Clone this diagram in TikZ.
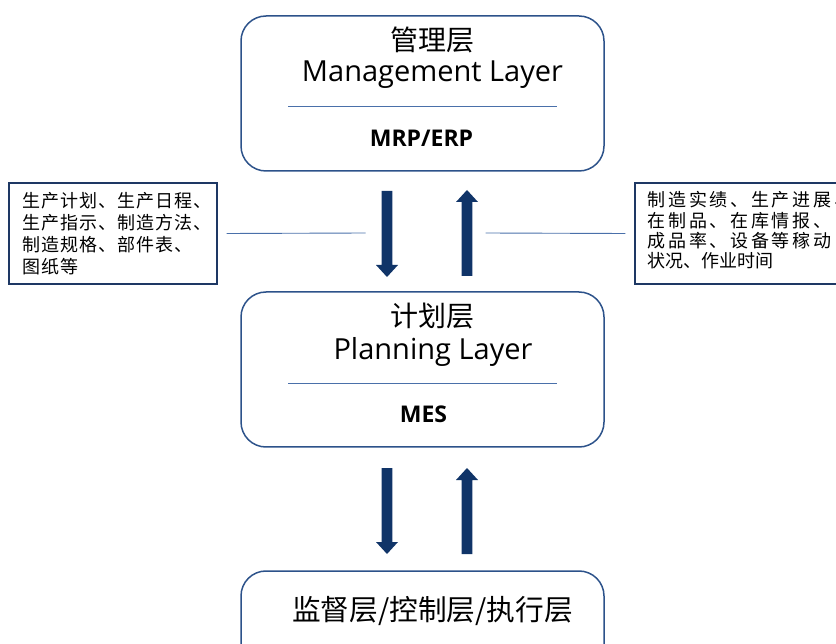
\documentclass[tikz,border=0pt]{standalone}
\usepackage{fontspec}
\setmainfont{Open Sans}
\newfontfamily\cjk{Noto Sans CJK SC}
\newfontfamily\cjkwide[LetterSpace=6]{Noto Sans CJK SC}
\newfontfamily\cjkwider[LetterSpace=15]{Noto Sans CJK SC}
\newfontfamily\cjknarrow[LetterSpace=0]{Noto Sans CJK SC}
\definecolor{navy}{RGB}{16,52,104}
\definecolor{frame}{RGB}{44,82,138}
\definecolor{boxline}{RGB}{30,56,100}
\definecolor{rule}{RGB}{74,112,170}
\tikzset{
  layerbox/.style={draw=frame, line width=1.5pt, rounded corners=25pt,
    minimum width=363pt, minimum height=155pt, inner sep=0pt},
  notebox/.style={draw=boxline, line width=1.4pt,
    minimum width=208pt, minimum height=101pt, inner sep=0pt},
  seprule/.style={draw=rule, line width=0.9pt},
  cntitle/.style={inner sep=0pt, font=\cjk\fontsize{28pt}{30pt}\selectfont},
  entitle/.style={inner sep=0pt, anchor=base, font=\fontsize{29pt}{32pt}\selectfont},
  systext/.style={inner sep=0pt, anchor=base, font=\bfseries\fontsize{23pt}{26pt}\selectfont},
  notetext/.style={inner sep=0pt, anchor=north west, align=left},
  blockarrow/.pic={\fill[navy] (-5.3,0) -- (5.3,0) -- (5.3,74) -- (11,74)
    -- (0,86) -- (-11,74) -- (-5.3,74) -- cycle;}
}
\begin{document}
\begin{tikzpicture}[x=1pt,y=-1pt]
\useasboundingbox (0,0) rectangle (836,644);
\clip (0,0) rectangle (836,644);

% management layer
\node[layerbox] (mgmt) at (422.5,93.5) {};
\node[cntitle] (mgmtcn) at (432.5,39.5) {管理层};
\node[entitle] (mgmten) at (432.5,82) {Management Layer};
\coordinate (mgmtl) at (288,106);
\coordinate (mgmtr) at (557,106);
\draw[seprule] (mgmtl) -- (mgmtr);
\node[systext] (erp) at (421.5,147) {MRP/ERP};

% planning layer
\node[layerbox] (plan) at (422.5,369.5) {};
\node[cntitle] (plancn) at (432.5,316) {计划层};
\node[entitle] (planen) at (433,360) {Planning Layer};
\coordinate (planl) at (288,383.3);
\coordinate (planr) at (557,383.3);
\draw[seprule] (planl) -- (planr);
\node[systext] (mes) at (423.5,423) {MES};

% supervisory / control / execution layer
\node[layerbox] (ctrl) at (422.5,648.5) {};
\node[cntitle, font=\cjk\fontsize{28.7pt}{30pt}\selectfont] (ctrlcn)
  at (432.5,610.5) {监督层/控制层/执行层};

% flows between management and planning
\pic at (387,191) {blockarrow};
\pic[rotate=180] at (467,276) {blockarrow};
% flows between planning and control
\pic at (387,468) {blockarrow};
\pic[rotate=180] at (467,554) {blockarrow};

% downward information
\node[notebox] (down) at (113,233.5) {};
\node[notetext, font=\cjkwide\fontsize{18pt}{22pt}\selectfont] (downtxt)
  at (22,192.5)
  {生产计划、生产日程、\\生产指示、制造方法、\\制造规格、部件表、\\图纸等};
\coordinate (downend) at (365.7,233);
\draw[seprule] ([xshift=9pt]down.east) -- (downend);

% upward information
\node[notebox] (up) at (739,233.5) {};
\node[notetext, font=\cjkwider\fontsize{18pt}{20.3pt}\selectfont] (uptxt)
  at (647.5,191.5)
  {制造实绩、生产进展、\\在制品、在库情报、\\成品率、设备等稼动\\{\cjknarrow 状况、作业时间}};
\coordinate (upend) at (485.7,233);
\draw[seprule] (upend) -- ([xshift=-9pt]up.west);
\end{tikzpicture}
\end{document}
